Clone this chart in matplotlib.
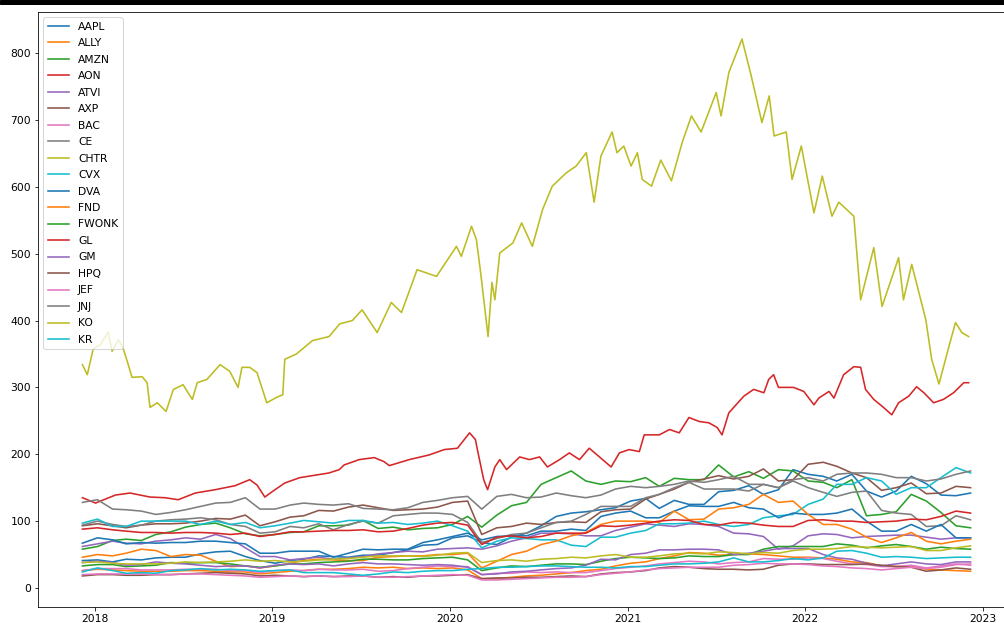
import numpy as np
import pandas as pd
import matplotlib.pyplot as plt
import matplotlib.dates as mdates
from matplotlib.patches import Rectangle

plt.rcParams["font.size"] = 10.8
plt.rcParams["lines.linewidth"] = 1.6

# === Monthly closes (7th of each month, Dec 2017 .. Dec 2022) ===
months = pd.date_range("2017-12-01", periods=61, freq="MS") + pd.Timedelta(days=6)

AAPL = [41, 42, 39, 43, 42, 45, 46, 46, 51, 54, 55, 47, 41,
        37, 41, 43, 48, 47, 46, 49, 49, 53, 57, 64, 65,
        75, 78, 68, 65, 76, 82, 93, 107, 112, 114, 117, 120,
        130, 134, 119, 131, 125, 125, 144, 146, 153, 140, 147, 177,
        170, 167, 160, 170, 145, 136, 145, 167, 156, 139, 138, 142]
ALLY = [26, 28, 27, 26, 25, 25, 25, 26, 26, 25, 24, 24, 21,
        23, 25, 26, 28, 28, 29, 31, 30, 31, 29, 30, 29,
        30, 27, 14, 14, 16, 18, 19, 21, 23, 26, 28, 33,
        37, 39, 44, 48, 53, 52, 49, 50, 51, 50, 48, 46,
        46, 45, 43, 39, 38, 33, 32, 33, 28, 27, 26, 25]
AMZN = [58, 62, 71, 73, 71, 80, 84, 91, 95, 97, 90, 81, 78,
        80, 83, 84, 93, 93, 94, 101, 89, 91, 87, 89, 90,
        95, 107, 91, 109, 123, 128, 155, 165, 175, 160, 155, 160,
        159, 165, 152, 164, 162, 162, 184, 166, 174, 164, 177, 175,
        160, 158, 150, 162, 108, 110, 114, 140, 130, 113, 93, 90]
ATVI = [62, 66, 70, 67, 66, 70, 72, 75, 73, 80, 74, 60, 47,
        47, 42, 44, 46, 43, 45, 47, 51, 53, 55, 54, 58,
        59, 60, 58, 63, 70, 75, 82, 82, 81, 78, 78, 86,
        91, 96, 94, 92, 96, 95, 92, 82, 81, 77, 58, 63,
        78, 81, 80, 75, 77, 78, 79, 79, 76, 73, 75, 75]
AXP = [93, 96, 93, 90, 94, 96, 96, 97, 100, 104, 103, 109, 93,
       99, 106, 108, 116, 115, 121, 124, 120, 116, 117, 118, 121,
       128, 130, 80, 90, 92, 97, 95, 98, 99, 98, 114, 117,
       118, 133, 140, 148, 158, 163, 168, 163, 167, 178, 160, 162,
       185, 188, 182, 172, 165, 146, 150, 157, 141, 142, 152, 150]
BAC = [26, 29, 29, 29, 27, 27, 27, 28, 28, 28, 26, 26, 23,
       26, 27, 26, 28, 27, 27, 28, 25, 26, 29, 31, 33,
       32, 32, 20, 22, 22, 24, 23, 24, 23, 23, 26, 29,
       31, 33, 36, 38, 40, 39, 36, 38, 39, 44, 43, 43,
       45, 44, 40, 36, 35, 32, 32, 34, 30, 33, 36, 34]
CE = [94, 100, 95, 92, 94, 100, 102, 103, 105, 102, 95, 92, 82,
      84, 92, 90, 96, 87, 95, 100, 97, 108, 110, 112, 112,
      110, 98, 68, 74, 80, 82, 90, 98, 100, 110, 122, 122,
      122, 135, 140, 150, 158, 148, 148, 148, 145, 155, 150, 160,
      150, 143, 137, 143, 145, 116, 112, 110, 92, 93, 108, 102]
CVX = [97, 103, 92, 92, 100, 100, 100, 100, 95, 100, 95, 98, 90,
       93, 97, 101, 99, 97, 101, 101, 97, 98, 95, 97, 100,
       93, 85, 60, 70, 75, 74, 72, 72, 64, 62, 76, 76,
       82, 86, 96, 96, 97, 100, 95, 92, 95, 105, 108, 110,
       125, 133, 155, 155, 165, 160, 140, 150, 150, 165, 180, 172]
DVA = [67, 75, 72, 66, 68, 67, 68, 68, 70, 70, 68, 66, 52,
       52, 55, 55, 55, 46, 52, 58, 57, 58, 58, 68, 72,
       77, 82, 72, 77, 78, 78, 85, 85, 88, 86, 107, 112,
       115, 105, 105, 115, 123, 122, 122, 128, 120, 118, 105, 112,
       110, 110, 112, 118, 100, 85, 85, 95, 85, 95, 75, 75]
FND = [46, 50, 48, 52, 58, 56, 47, 50, 49, 40, 32, 33, 30,
       33, 37, 41, 43, 42, 41, 41, 46, 47, 48, 48, 50,
       50, 52, 30, 40, 50, 55, 65, 70, 78, 83, 95, 100,
       100, 100, 98, 115, 102, 103, 118, 120, 125, 140, 128, 130,
       110, 95, 95, 88, 76, 68, 75, 83, 70, 66, 70, 73]
FWONK = [33, 35, 35, 32, 33, 34, 38, 37, 38, 38, 36, 33, 31,
         33, 36, 36, 38, 39, 40, 43, 43, 42, 42, 44, 45,
         46, 42, 26, 30, 33, 32, 34, 36, 36, 35, 40, 44,
         46, 45, 44, 45, 48, 47, 47, 50, 50, 58, 62, 62,
         62, 62, 66, 64, 60, 63, 65, 62, 58, 61, 59, 58]
GL = [88, 90, 87, 85, 83, 83, 82, 83, 83, 82, 80, 82, 77,
      80, 84, 84, 85, 86, 86, 87, 84, 85, 89, 94, 97,
      98, 94, 65, 76, 78, 75, 77, 82, 82, 82, 93, 92,
      94, 97, 100, 102, 101, 95, 94, 98, 97, 94, 92, 92,
      101, 102, 100, 100, 98, 99, 100, 103, 102, 107, 115, 112]
GM = [38, 40, 38, 34, 35, 39, 37, 36, 34, 32, 33, 33, 30,
      34, 36, 35, 36, 33, 36, 38, 36, 36, 35, 34, 35,
      34, 31, 20, 21, 24, 25, 27, 29, 30, 34, 43, 42,
      50, 52, 57, 57, 58, 58, 57, 50, 52, 55, 59, 59,
      59, 50, 45, 43, 37, 33, 36, 39, 36, 35, 39, 39]
HPQ = [18, 20, 20, 19, 19, 20, 20, 21, 22, 23, 22, 21, 18,
       19, 18, 17, 18, 17, 18, 18, 16, 17, 16, 18, 18,
       19, 20, 14, 15, 15, 16, 16, 17, 18, 17, 21, 23,
       24, 26, 30, 32, 31, 29, 28, 28, 27, 28, 34, 36,
       36, 35, 35, 35, 36, 34, 32, 31, 25, 27, 30, 28]
JEF = [20, 21, 21, 21, 21, 20, 20, 21, 21, 20, 19, 18, 16,
       17, 18, 17, 18, 17, 17, 18, 16, 16, 17, 18, 19,
       20, 19, 12, 12, 13, 14, 15, 16, 16, 17, 20, 22,
       24, 27, 29, 30, 31, 31, 31, 34, 35, 37, 36, 36,
       35, 33, 32, 30, 29, 27, 29, 31, 29, 31, 35, 36]
JNJ = [128, 132, 118, 117, 115, 110, 113, 117, 122, 127, 128, 135, 118,
       118, 124, 127, 125, 124, 126, 119, 118, 117, 120, 128, 131,
       135, 137, 118, 137, 140, 135, 136, 142, 138, 135, 139, 148,
       152, 150, 152, 155, 160, 158, 162, 167, 155, 155, 150, 162,
       165, 160, 170, 172, 172, 170, 165, 165, 160, 163, 170, 175]
KO = [38, 39, 37, 36, 36, 36, 37, 39, 38, 39, 40, 42, 40,
      41, 39, 40, 42, 43, 44, 46, 48, 48, 48, 47, 49,
      52, 53, 38, 41, 42, 40, 43, 44, 46, 45, 48, 50,
      46, 46, 48, 51, 52, 51, 54, 53, 51, 53, 52, 56,
      58, 58, 59, 62, 61, 60, 61, 62, 56, 56, 60, 63]
KR = [24, 30, 26, 22, 23, 22, 26, 27, 29, 27, 28, 27, 25,
      26, 27, 23, 23, 23, 21, 19, 21, 24, 23, 25, 26,
      26, 28, 29, 31, 31, 32, 33, 33, 32, 31, 31, 30,
      32, 32, 34, 36, 36, 37, 39, 45, 39, 39, 41, 44,
      42, 45, 55, 56, 52, 46, 47, 46, 44, 45, 46, 46]

# === Denser readings for the two large series ===
aon_dates = ["2017-12-07", "2018-01-03", "2018-02-13", "2018-03-15", "2018-04-25", "2018-05-26",
             "2018-06-22", "2018-07-27", "2018-09-06", "2018-10-17", "2018-11-16", "2018-12-01",
             "2018-12-17", "2019-01-01", "2019-01-27", "2019-02-27", "2019-04-28", "2019-05-19",
             "2019-05-29", "2019-06-29", "2019-07-30", "2019-08-19", "2019-08-30", "2019-10-10",
             "2019-11-20", "2019-12-21", "2020-01-17", "2020-02-11", "2020-02-23", "2020-02-27",
             "2020-03-11", "2020-03-19", "2020-04-03", "2020-04-13", "2020-04-27", "2020-05-24",
             "2020-06-13", "2020-07-04", "2020-07-20", "2020-08-14", "2020-09-03", "2020-09-24",
             "2020-10-14", "2020-11-04", "2020-11-28", "2020-12-15", "2021-01-04", "2021-01-25",
             "2021-02-04", "2021-03-07", "2021-03-28", "2021-04-17", "2021-05-07", "2021-05-28",
             "2021-06-17", "2021-07-04", "2021-07-14", "2021-07-28", "2021-08-28", "2021-09-17",
             "2021-10-08", "2021-10-18", "2021-10-28", "2021-11-07", "2021-12-08", "2021-12-29",
             "2022-01-19", "2022-01-29", "2022-02-19", "2022-03-01", "2022-03-21", "2022-04-11",
             "2022-04-25", "2022-05-05", "2022-05-22", "2022-06-11", "2022-06-28", "2022-07-12",
             "2022-08-02", "2022-08-18", "2022-09-02", "2022-09-22", "2022-10-12", "2022-11-02",
             "2022-11-23", "2022-12-03"]
AON = [135, 127, 139, 142, 136, 135, 132, 142, 147, 153, 162, 154,
       136, 144, 157, 165, 172, 177, 184, 192, 195, 189, 183, 192,
       199, 207, 209, 232, 222, 207, 162, 147, 181, 192, 177, 196,
       192, 196, 181, 192, 202, 192, 209, 196, 181, 202, 207, 204,
       229, 229, 237, 232, 255, 249, 247, 240, 229, 262, 287, 297,
       292, 312, 319, 300, 300, 294, 274, 284, 294, 284, 319, 331,
       330, 297, 282, 270, 259, 277, 287, 301, 292, 277, 282, 292,
       307, 307]

chtr_dates = ["2017-12-07", "2017-12-17", "2017-12-29", "2018-01-13", "2018-01-29", "2018-02-06",
              "2018-02-19", "2018-02-28", "2018-03-10", "2018-03-19", "2018-04-09", "2018-04-19",
              "2018-04-25", "2018-05-10", "2018-05-28", "2018-06-12", "2018-07-02", "2018-07-21",
              "2018-07-31", "2018-08-20", "2018-09-16", "2018-10-06", "2018-10-23", "2018-10-31",
              "2018-11-16", "2018-12-01", "2018-12-21", "2019-01-10", "2019-01-23", "2019-01-27",
              "2019-02-20", "2019-03-25", "2019-04-28", "2019-05-20", "2019-06-15", "2019-07-05",
              "2019-08-05", "2019-09-03", "2019-09-24", "2019-10-26", "2019-12-05", "2020-01-15",
              "2020-01-25", "2020-02-15", "2020-02-25", "2020-03-05", "2020-03-20", "2020-03-28",
              "2020-04-03", "2020-04-13", "2020-05-10", "2020-05-28", "2020-06-19", "2020-07-10",
              "2020-07-30", "2020-08-28", "2020-09-17", "2020-10-08", "2020-10-24", "2020-11-07",
              "2020-11-30", "2020-12-10", "2020-12-24", "2021-01-08", "2021-01-21", "2021-01-31",
              "2021-02-19", "2021-03-10", "2021-04-01", "2021-04-23", "2021-05-12", "2021-06-01",
              "2021-07-02", "2021-07-12", "2021-07-28", "2021-08-24", "2021-09-12", "2021-10-04",
              "2021-10-19", "2021-10-29", "2021-11-23", "2021-12-05", "2021-12-24", "2022-01-19",
              "2022-02-05", "2022-02-25", "2022-03-11", "2022-04-11", "2022-04-25", "2022-05-22",
              "2022-06-08", "2022-07-12", "2022-07-22", "2022-08-08", "2022-09-06", "2022-09-18",
              "2022-10-03", "2022-10-23", "2022-11-06", "2022-11-19", "2022-12-03"]
CHTR = [334, 319, 357, 364, 383, 354, 371, 360, 337, 315, 316, 307,
        270, 277, 264, 297, 304, 282, 307, 312, 334, 324, 300, 330,
        330, 322, 277, 285, 289, 342, 350, 370, 376, 395, 400, 416,
        382, 427, 412, 476, 466, 511, 496, 541, 521, 470, 376, 457,
        431, 501, 516, 546, 511, 566, 601, 621, 631, 651, 577, 646,
        682, 651, 661, 631, 651, 611, 601, 640, 609, 666, 706, 682,
        741, 706, 771, 821, 766, 696, 736, 676, 682, 611, 661, 561,
        616, 556, 577, 556, 431, 509, 421, 494, 431, 484, 401, 342,
        305, 360, 397, 382, 376]

tickers = ["AAPL", "ALLY", "AMZN", "AON", "ATVI", "AXP", "BAC", "CE", "CHTR", "CVX",
           "DVA", "FND", "FWONK", "GL", "GM", "HPQ", "JEF", "JNJ", "KO", "KR"]
series = {"AAPL": AAPL, "ALLY": ALLY, "AMZN": AMZN, "AON": AON, "ATVI": ATVI, "AXP": AXP,
          "BAC": BAC, "CE": CE, "CHTR": CHTR, "CVX": CVX, "DVA": DVA, "FND": FND,
          "FWONK": FWONK, "GL": GL, "GM": GM, "HPQ": HPQ, "JEF": JEF, "JNJ": JNJ,
          "KO": KO, "KR": KR}
own_dates = {"AON": pd.to_datetime(aon_dates), "CHTR": pd.to_datetime(chtr_dates)}

# === Plot ===
fig = plt.figure(figsize=(1004 / 72, 623 / 72), dpi=72)
ax = fig.add_axes([38 / 1004, 16 / 623, 977 / 1004, 595 / 623])

for t in tickers:
    x = own_dates.get(t, months)
    ax.plot(x, series[t], label=t)

ax.xaxis.set_major_locator(mdates.YearLocator())
ax.xaxis.set_major_formatter(mdates.DateFormatter("%Y"))
ax.legend(loc="upper left", labelspacing=0.6)

# dark strip along the top edge of the screenshot
fig.add_artist(Rectangle((0, 1 - 4 / 623), 1, 4 / 623, transform=fig.transFigure,
                         color="black", zorder=10))

fig.savefig("out.png", dpi=72)
